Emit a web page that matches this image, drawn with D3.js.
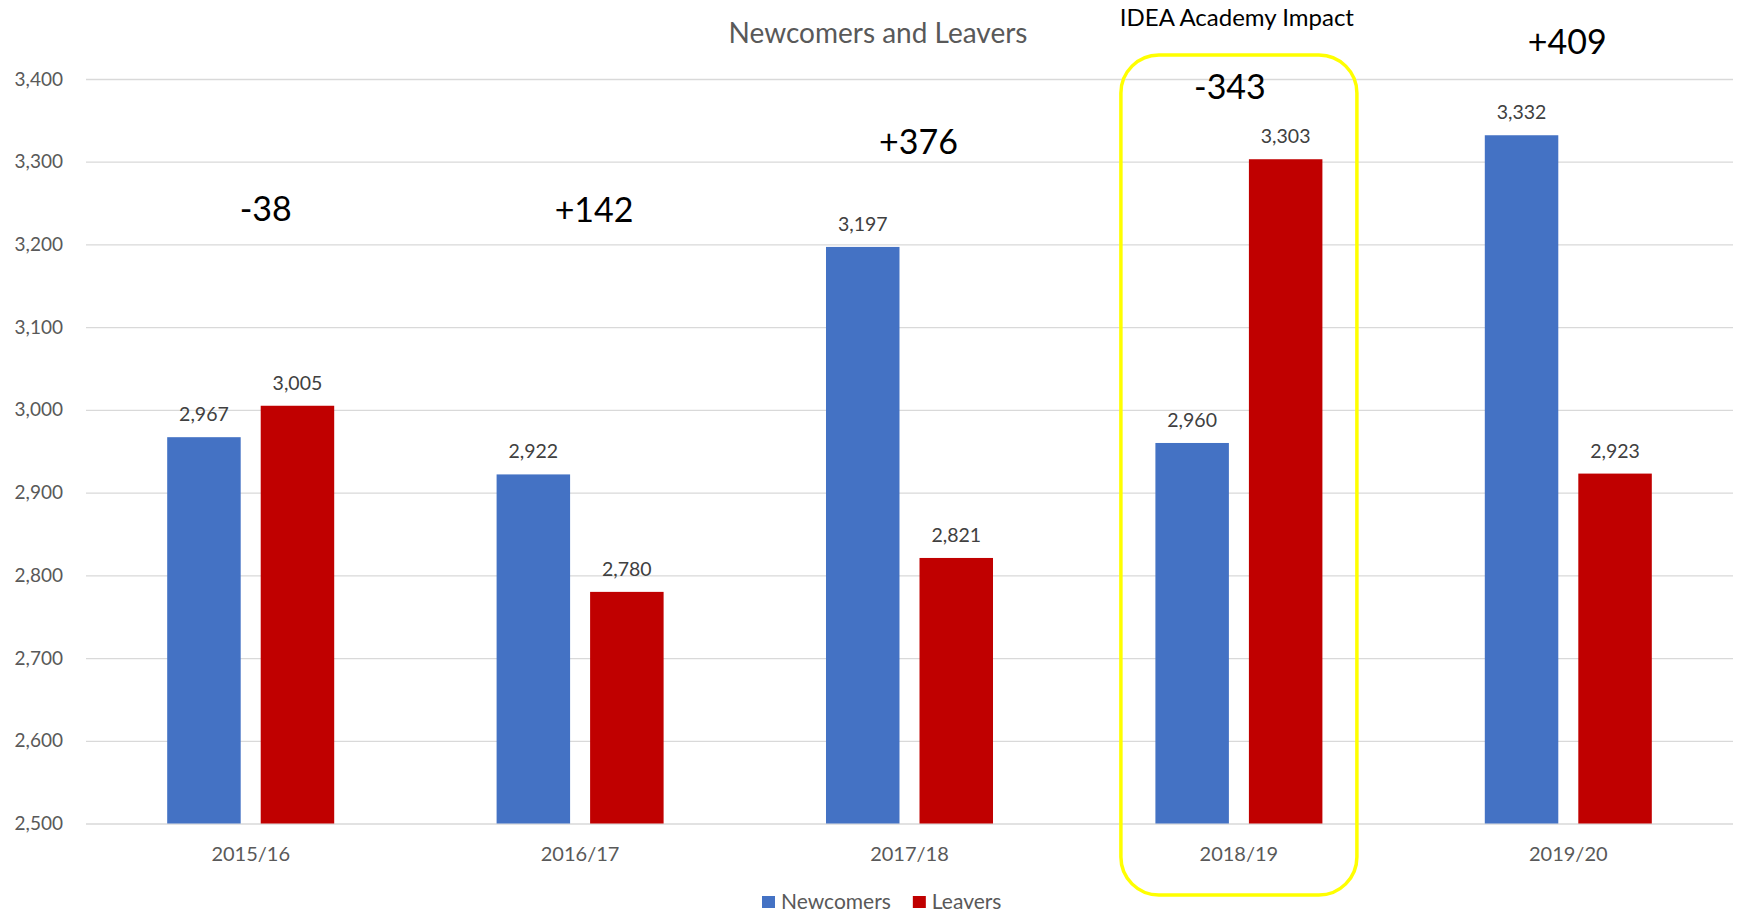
<!DOCTYPE html>
<html>
<head>
<meta charset="utf-8">
<script src="https://cdn.jsdelivr.net/npm/d3@7"></script>
<style>
  body { margin: 0; background: #fff; }
  svg { display: block; font-family: Lato, "Open Sans", sans-serif; }
</style>
</head>
<body>
<svg id="chart" width="1737" height="914"></svg>
<script>
var categories = ['2015/16', '2016/17', '2017/18', '2018/19', '2019/20']
var newcomers = [2967, 2922, 3197, 2960, 3332]
var leavers = [3005, 2780, 2821, 3303, 2923]
var yTicks = [2500, 2600, 2700, 2800, 2900, 3000, 3100, 3200, 3300, 3400]
// where the hand-placed difference labels sit, in chart units
var diffLevel = [3228, 3227, 3309, 3376, 3430]
var highlighted = '2018/19'

var series = [
  { name: 'Newcomers', values: newcomers, color: '#4472C4' },
  { name: 'Leavers', values: leavers, color: '#C00000' }
]

var plot = { left: 86, right: 1733, top: 79, bottom: 823.5 }
var diffShift = [15, 14, 9, -9, -1]

var svg = d3.select('#chart')

var x0 = d3.scaleBand()
    .domain(categories)
    .range([plot.left, plot.right])

var groupPad = x0.bandwidth() * 0.2465
var x1 = d3.scaleBand()
    .domain(series.map(function(s) { return s.name; }))
    .range([groupPad, x0.bandwidth() - groupPad])
    .paddingInner(0.214)

var y = d3.scaleLinear()
    .domain([2500, 3400])
    .range([plot.bottom, plot.top])

var fmt = d3.format(',')

// gridlines + tick labels
var yAxis = d3.axisLeft(y)
    .tickValues(yTicks)
    .tickFormat(fmt)
    .tickSize(-(plot.right - plot.left))
    .tickPadding(23)

var gy = svg.append('g')
    .attr('transform', `translate(${plot.left}, 0)`)
    .call(yAxis)
gy.select('.domain').remove()
gy.selectAll('line')
    .attr('stroke', '#D9D9D9')
    .attr('stroke-width', function(d) { return d == 2500 ? 1.6 : 1.3; })
gy.selectAll('text')
    .attr('fill', '#595959')
    .style('font-size', '19px')
    .style('font-family', 'Lato, sans-serif')

// highlight box round the IDEA year
var hx = x0(highlighted) + x0.bandwidth() / 2
svg.append('rect')
    .attr('x', hx - 118)
    .attr('y', 55)
    .attr('width', 236)
    .attr('height', 840)
    .attr('rx', 38)
    .attr('ry', 38)
    .attr('fill', 'none')
    .attr('stroke', '#FFFF00')
    .attr('stroke-width', 3.5)

svg.append('text')
    .attr('x', hx - 2)
    .attr('y', 26)
    .attr('text-anchor', 'middle')
    .attr('fill', '#000')
    .style('font-size', '24px')
    .text('IDEA Academy Impact')

// bars
var group = svg.selectAll('.grp')
    .data(categories)
    .enter().append('g')
    .attr('class', 'grp')
    .attr('transform', function(d) { return `translate(${x0(d)}, 0)`; })

series.forEach(function(s) {
  group.append('rect')
      .attr('x', x1(s.name))
      .attr('width', x1.bandwidth())
      .attr('y', function(d, i) { return y(s.values[i]); })
      .attr('height', function(d, i) { return y(2500) - y(s.values[i]); })
      .attr('fill', s.color)

  group.append('text')
      .attr('x', x1(s.name) + x1.bandwidth() / 2)
      .attr('y', function(d, i) { return y(s.values[i]) - 16; })
      .attr('text-anchor', 'middle')
      .attr('fill', '#404040')
      .style('font-size', '19.5px')
      .text(function(d, i) { return fmt(s.values[i]); })
})

// difference labels
group.append('text')
    .attr('x', function(d, i) { return x0.bandwidth() / 2 + diffShift[i]; })
    .attr('y', function(d, i) { return y(diffLevel[i]); })
    .attr('text-anchor', 'middle')
    .attr('fill', '#000')
    .style('font-size', '34px')
    .text(function(d, i) {
      var diff = newcomers[i] - leavers[i]
      return (diff > 0 ? '+' : '-') + Math.abs(diff);
    })

// category labels
group.append('text')
    .attr('x', x0.bandwidth() / 2)
    .attr('y', 861)
    .attr('text-anchor', 'middle')
    .attr('fill', '#595959')
    .style('font-size', '20px')
    .text(function(d) { return d; })

// title
svg.append('text')
    .attr('x', 878)
    .attr('y', 43)
    .attr('text-anchor', 'middle')
    .attr('fill', '#595959')
    .style('font-size', '28px')
    .text('Newcomers and Leavers')

// legend
var legend = svg.append('g')
    .attr('transform', 'translate(762, 896)')
var lx = 0
series.forEach(function(s) {
  legend.append('rect')
      .attr('x', lx)
      .attr('y', 0)
      .attr('width', 13)
      .attr('height', 12)
      .attr('fill', s.color)
  var t = legend.append('text')
      .attr('x', lx + 19)
      .attr('y', 12.5)
      .attr('fill', '#595959')
      .style('font-size', '21px')
      .text(s.name)
  lx += 19 + t.node().getComputedTextLength() + 22
})
</script>
</body>
</html>
